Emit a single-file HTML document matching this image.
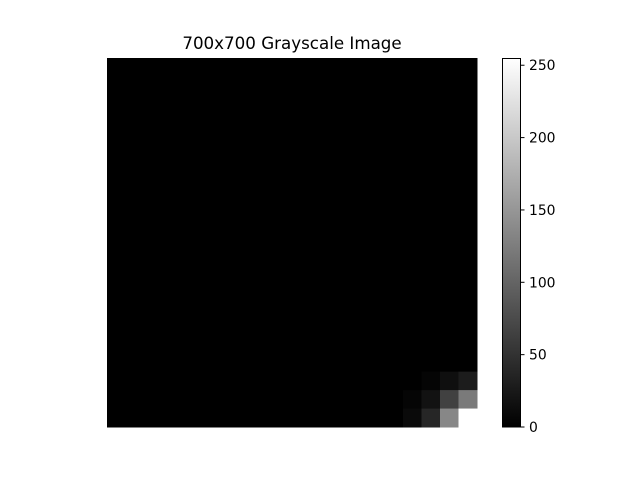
<!DOCTYPE html>
<html><head><meta charset="utf-8"><style>
body{margin:0;background:#fff;width:640px;height:480px;overflow:hidden;font-family:"DejaVu Sans","Liberation Sans",sans-serif;}
</style></head><body>
<svg id="chart" width="640" height="480" xmlns="http://www.w3.org/2000/svg" font-family="DejaVu Sans, Liberation Sans, sans-serif">
<defs><linearGradient id="cb" x1="0" y1="1" x2="0" y2="0"><stop offset="0" stop-color="#000"/><stop offset="1" stop-color="#fff"/></linearGradient></defs>
<text x="292" y="49" font-size="16.7" text-anchor="middle" fill="#000">700x700 Grayscale Image</text>
<g id="cells"></g>
<rect x="502.5" y="58.5" width="18" height="368.5" fill="url(#cb)" stroke="#000" stroke-width="1"/>
<g id="cbticks"></g>
</svg>
<script>
const rows = 20, cols = 20;
const nonzeroRows = [17, 17, 17, 18, 18, 18, 18, 19, 19, 19, 19];
const nonzeroCols = [17, 18, 19, 16, 17, 18, 19, 16, 17, 18, 19];
const nonzeroVals = [5, 15, 28, 5, 18, 65, 122, 10, 38, 135, 255];
const cbTicks = [0, 50, 100, 150, 200, 250];
const vmax = 255;
const X0 = 107, Y0 = 58, W = 370, H = 369;
const cw = W / cols, ch = H / rows;
const NS = "http://www.w3.org/2000/svg";
const grid = [];
for (let r = 0; r < rows; r++) { grid.push(new Array(cols).fill(0)); }
nonzeroVals.forEach((v, i) => { grid[nonzeroRows[i]][nonzeroCols[i]] = v; });
const g = document.getElementById('cells');
for (let r = 0; r < rows; r++) for (let c = 0; c < cols; c++) {
  const v = Math.round(grid[r][c] / vmax * 255);
  const el = document.createElementNS(NS, 'rect');
  
  
  el.setAttribute('x', X0 + c * cw); el.setAttribute('y', Y0 + r * ch);
  el.setAttribute('width', cw + 0.5); el.setAttribute('height', ch + 0.5);
  el.setAttribute('fill', `rgb(${v},${v},${v})`);
  g.appendChild(el);
}
const tg = document.getElementById('cbticks');
const cy = v => 427 - v / vmax * 369;
cbTicks.forEach(t => {
  const l = document.createElementNS(NS, 'line');
  
  
  l.setAttribute('x1', 521); l.setAttribute('x2', 524.5);
  l.setAttribute('y1', cy(t)); l.setAttribute('y2', cy(t));
  l.setAttribute('stroke', '#000');
  tg.appendChild(l);
  const tx = document.createElementNS(NS, 'text');
  
  
  tx.setAttribute('x', 529); tx.setAttribute('y', cy(t) + 5);
  tx.setAttribute('font-size', '13.9');
  tx.textContent = t;
  tg.appendChild(tx);
});
</script>
</body></html>
